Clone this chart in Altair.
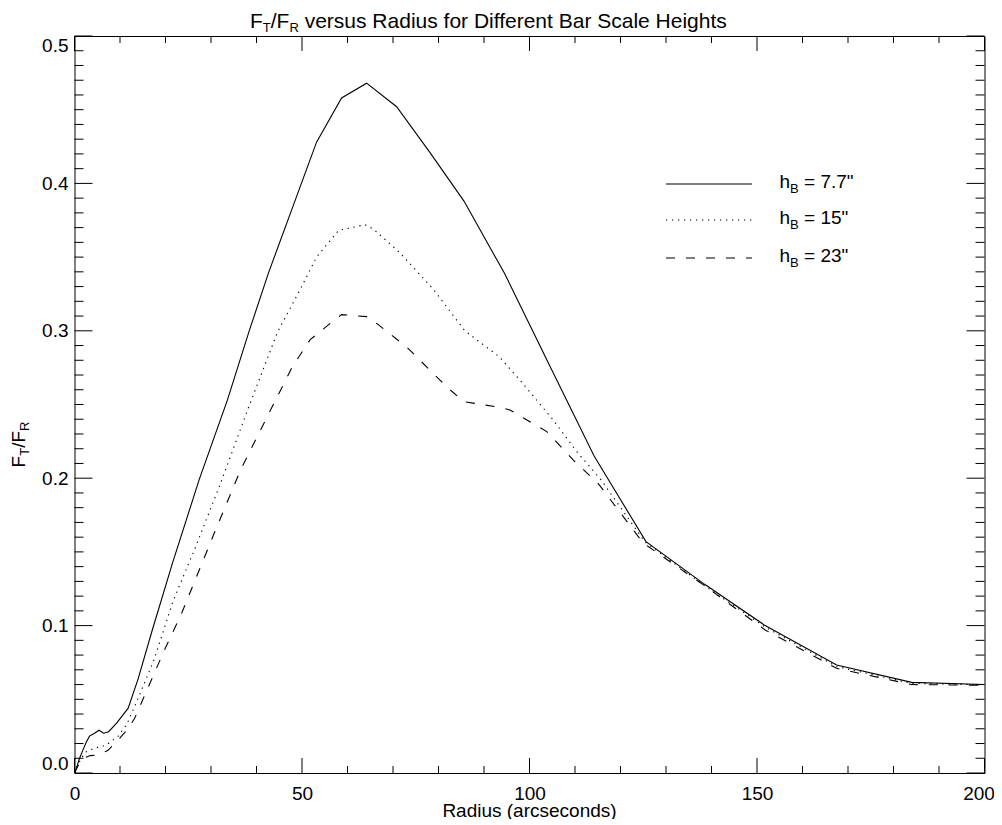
import altair as alt
import pandas as pd

# ---------------- data ----------------
r_77 = [0, 0.5, 1.0, 1.7, 2.6, 3.3, 4.4, 5.4, 6.4, 7.5, 9.3, 11.8, 14.0, 17.1, 21.5,
        27.4, 33.6, 38.4, 42.6, 48.8, 53.2, 58.7, 64.2, 70.8, 78.1, 85.6, 94.5,
        104.5, 114.2, 125.6, 138.5, 151.8, 167.5, 184.0, 200.0]
v_77 = [0.0, 0.004, 0.009, 0.0145, 0.021, 0.025, 0.027, 0.029, 0.027, 0.028, 0.034,
        0.044, 0.064, 0.097, 0.142, 0.199, 0.253, 0.300, 0.339, 0.391, 0.428, 0.458,
        0.468, 0.452, 0.421, 0.388, 0.339, 0.276, 0.215, 0.157, 0.128, 0.100, 0.0733,
        0.0615, 0.0600]

r_15 = [0, 0.8, 2.3, 4.1, 7.0, 9.6, 11.5, 14.3, 17.5, 21.7, 26.3, 32.1, 38.0, 44.6,
        49.6, 53.2, 58.0, 63.8, 65.7, 71.5, 78.9, 85.8, 93.3, 97.9, 105.2, 110.4,
        115.7, 125.3, 138.5, 151.8, 167.5, 184.0, 200.0]
v_15 = [0.0, 0.006, 0.014, 0.0165, 0.019, 0.025, 0.033, 0.053, 0.077, 0.117, 0.151,
        0.1965, 0.246, 0.299, 0.328, 0.350, 0.368, 0.372, 0.369, 0.353, 0.328, 0.300,
        0.2825, 0.2666, 0.2395, 0.218, 0.199, 0.157, 0.127, 0.099, 0.0722, 0.0608,
        0.0598]

r_23 = [0, 0.8, 1.9, 3.5, 4.9, 7.3, 9.6, 11.5, 13.2, 16.6, 19.7, 23.5, 30.7, 36.5,
        42.4, 47.9, 51.8, 56.2, 58.7, 64.2, 66.4, 73.0, 81.8, 85.5, 93.5, 95.7, 103.8,
        109.6, 115.2, 125.0, 138.5, 151.8, 167.5, 184.0, 200.0]
v_23 = [0.0, 0.005, 0.010, 0.0118, 0.0122, 0.0152, 0.0224, 0.029, 0.037, 0.061, 0.083,
        0.108, 0.1626, 0.2056, 0.242, 0.2757, 0.294, 0.305, 0.311, 0.3096, 0.305, 0.289,
        0.262, 0.252, 0.248, 0.2463, 0.2316, 0.2124, 0.196, 0.156, 0.127, 0.097, 0.071,
        0.060, 0.0595]

legend_values = ['7.7"', '15"', '23"']

x_major = [0, 50, 100, 150, 200]
x_minor = [v for v in range(0, 201, 10) if v % 50 != 0]
y_major = [0.0, 0.1, 0.2, 0.3, 0.4, 0.5]
y_minor = [round(i * 0.01, 2) for i in range(51) if i % 10 != 0]

# ---------------- layout / style ----------------
W, H = 910, 737
FONT = "Liberation Sans"
M = 19        # labels / axis titles / legend
MT = 21       # plot title
S = 13        # subscript size
SUB = 4.5     # subscript drop

ARIAL = {'F': 611, 'T': 611, '/': 278, 'R': 722, ' ': 278, 'v': 500, 'e': 556, 'r': 333,
         's': 500, 'u': 556, 'a': 556, 'd': 556, 'i': 222, 'f': 278, 'o': 556, 'D': 722,
         'n': 556, 't': 278, 'B': 667, 'S': 667, 'c': 500, 'l': 222, 'H': 722, 'g': 556,
         'h': 556, '=': 584, '7': 556, '.': 278, '"': 355, '1': 556, '5': 556, '2': 556,
         '3': 556}


def tw(s, size):
    return sum(ARIAL.get(c, 556) for c in s) * size / 1000.0


one = pd.DataFrame({"a": [0]})

x_scale = alt.Scale(domain=[0, 200], nice=False, zero=False)
y_scale = alt.Scale(domain=[0, 0.5], nice=False, zero=False)

x_axis = alt.Axis(values=x_major, format="d", title=None, grid=False, domain=False,
                  ticks=False, tickSize=0, labelFont=FONT, labelFontSize=M,
                  labelColor="black", labelPadding=11, labelFlush=False,
                  labelOffset={"condition": {"test": "datum.value == 200", "value": -6},
                               "value": 0})
y_axis = alt.Axis(values=y_major, format=".1f", title=None, grid=False, domain=False,
                  ticks=False, tickSize=0, labelFont=FONT, labelFontSize=M,
                  labelColor="black", labelPadding=6.5, labelFlush=True)


def X(field):
    return alt.X(field, scale=x_scale, axis=x_axis)


def Y(field):
    return alt.Y(field, scale=y_scale, axis=y_axis)


def curve(rs, vs, dash=None):
    df = pd.DataFrame({"r": rs, "v": vs})
    kw = dict(color="black", strokeWidth=1.1, clip=True)
    if dash is not None:
        kw["strokeDash"] = dash
    return alt.Chart(df).mark_line(**kw).encode(x=X("r:Q"), y=Y("v:Q"), order="r:Q")


DOT = [1.3, 4.7]
DASH = [9, 11]

layers = [
    curve(r_77, v_77),
    curve(r_15, v_15, dash=DOT),
    curve(r_23, v_23, dash=DASH),
]


# ticks (inward, on all four sides)
def xticks(vals, length):
    df = pd.DataFrame({"t": vals})
    bot = alt.Chart(df).mark_rule(color="black", strokeWidth=1).encode(
        x=X("t:Q"), y=alt.value(H), y2=alt.value(H - length))
    top = alt.Chart(df).mark_rule(color="black", strokeWidth=1).encode(
        x=X("t:Q"), y=alt.value(0), y2=alt.value(length))
    return [bot, top]


def yticks(vals, length):
    df = pd.DataFrame({"t": vals})
    left = alt.Chart(df).mark_rule(color="black", strokeWidth=1).encode(
        y=Y("t:Q"), x=alt.value(0), x2=alt.value(length))
    right = alt.Chart(df).mark_rule(color="black", strokeWidth=1).encode(
        y=Y("t:Q"), x=alt.value(W), x2=alt.value(W - length))
    return [left, right]


layers += xticks(x_major, 15) + xticks(x_minor, 7)
layers += yticks(y_major, 18) + yticks(y_minor, 9)


def txt(s, x, y, size, angle=0, dx=0, dy=0, align="left"):
    df = pd.DataFrame({"s": [s]})
    kw = dict(font=FONT, fontSize=size, color="black", align=align,
              baseline="alphabetic")
    if angle:
        kw["angle"] = angle
    if dx:
        kw["dx"] = dx
    if dy:
        kw["dy"] = dy
    return alt.Chart(df).mark_text(**kw).encode(x=alt.value(x), y=alt.value(y), text="s:N")


def rich(pieces, x, y, main, angle=0, start=None):
    """pieces: list of (text, is_sub); leading spaces are turned into offsets.
    Centered on x (along the text direction) unless start is given."""
    items = []
    for t, sub in pieces:
        size = S if sub else main
        lead = len(t) - len(t.lstrip(" "))
        items.append((t.lstrip(" "), size, sub, tw(" " * lead, size), tw(t.lstrip(" "), size)))
    total = sum(a + b for _, _, _, a, b in items)
    out = []
    off = -total / 2.0 if start is None else start
    for t, size, sub, lead_w, w in items:
        off += lead_w
        if angle:
            out.append(txt(t, x, y, size, angle=angle, dx=off, dy=SUB if sub else 0))
        else:
            out.append(txt(t, x + off, y + (SUB if sub else 0), size))
        off += w
    return out


# title (starts at the same place as in the reference)
layers += rich([("F", False), ("T", True), ("/F", False), ("R", True),
                (" versus Radius for Different Bar Scale Heights", False)],
               0, -8.5, MT, start=175.5)

# y axis title (rotated)
layers += rich([("F", False), ("T", True), ("/F", False), ("R", True)],
               -50, H / 2.0 + 40, M, angle=270)

# x axis title
layers.append(txt("Radius (arcseconds)", W / 2.0, 780.5, M, align="center"))

# legend
leg_y = [148, 184, 222]
leg_dash = [None, DOT, DASH]
for lab, yy, dash in zip(legend_values, leg_y, leg_dash):
    kw = dict(color="black", strokeWidth=1.1)
    if dash is not None:
        kw["strokeDash"] = dash
    layers.append(alt.Chart(one).mark_rule(**kw).encode(
        x=alt.value(591.5), x2=alt.value(677.5), y=alt.value(yy)))
    base = yy + 4
    x0 = 705
    layers.append(txt("h", x0, base, M))
    x1 = x0 + tw("h", M)
    layers.append(txt("B", x1, base + SUB, S))
    x2 = x1 + tw("B", S) + tw(" ", M)
    layers.append(txt("= " + lab, x2, base, M))

chart = alt.layer(*layers).properties(
    width=W, height=H,
    autosize=alt.AutoSizeParams(type="none"),
    padding={"left": 66.5, "top": 28, "right": 9.5, "bottom": 46},
    background="white",
).configure_view(stroke="black", strokeWidth=1)

chart.save("out.html", embed_options={"renderer": "svg", "actions": False})
